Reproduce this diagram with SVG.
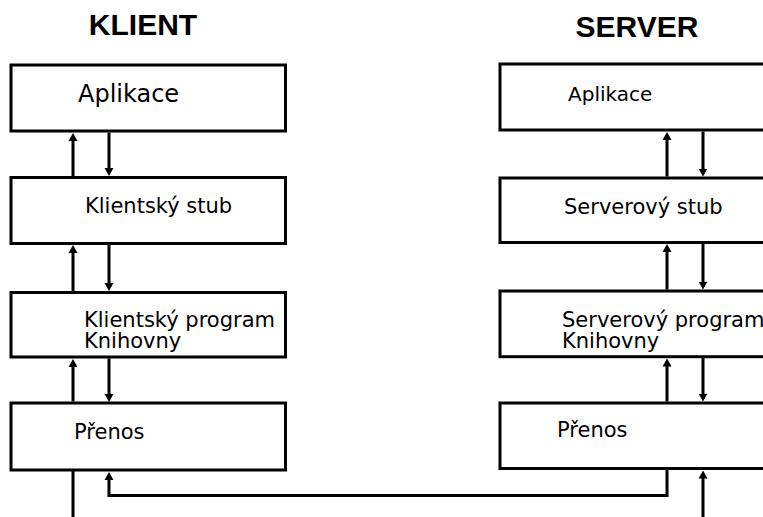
<svg xmlns="http://www.w3.org/2000/svg" width="763" height="517" viewBox="0 0 763 517">
  <style>
    .box { fill: #ffffff; stroke: #000000; stroke-width: 3; }
    .lbl { font-family: "DejaVu Sans", Verdana, sans-serif; font-size: 21px; fill: #000000; }
    .head { font-family: "Liberation Sans", Arial, sans-serif; font-size: 30px; font-weight: bold; fill: #000000; text-anchor: middle; }
    .wire { fill: none; stroke: #000000; stroke-width: 3; }
    .arr { marker-end: url(#tip); }
  </style>
  <defs>
    <marker id="tip" markerUnits="userSpaceOnUse" markerWidth="9" markerHeight="10" refX="1" refY="5" orient="auto">
      <path d="M0,0.5 L8,5 L0,9.5 z" fill="#000000"/>
    </marker>
  </defs>

  <rect width="763" height="517" fill="#ffffff"/>

  <text class="head" x="143" y="35">KLIENT</text>
  <text class="head" x="637" y="37">SERVER</text>

  <!-- client stack -->
  <g id="k-aplikace">
    <rect class="box" x="11" y="65" width="274.5" height="66"/>
    <text class="lbl" x="78" y="102" style="font-size:24px">Aplikace</text>
  </g>
  <g id="k-stub">
    <rect class="box" x="11" y="177.5" width="274.5" height="66"/>
    <text class="lbl" x="85" y="213">Klientský stub</text>
  </g>
  <g id="k-program">
    <rect class="box" x="11" y="292.5" width="274.5" height="64.5"/>
    <text class="lbl" x="84" y="327">Klientský program</text>
    <text class="lbl" x="84" y="348">Knihovny</text>
  </g>
  <g id="k-prenos">
    <rect class="box" x="11" y="403" width="274.5" height="67"/>
    <text class="lbl" x="74" y="439">Přenos</text>
  </g>

  <!-- server stack -->
  <g id="s-aplikace">
    <rect class="box" x="500" y="64" width="280" height="66"/>
    <text class="lbl" x="568" y="101" style="font-size:20px">Aplikace</text>
  </g>
  <g id="s-stub">
    <rect class="box" x="500" y="178" width="280" height="64.5"/>
    <text class="lbl" x="564" y="214">Serverový stub</text>
  </g>
  <g id="s-program">
    <rect class="box" x="500" y="291" width="280" height="65.7"/>
    <text class="lbl" x="562" y="327">Serverový program</text>
    <text class="lbl" x="562" y="348">Knihovny</text>
  </g>
  <g id="s-prenos">
    <rect class="box" x="500" y="403" width="280" height="65.5"/>
    <text class="lbl" x="557" y="437">Přenos</text>
  </g>

  <!-- connectors -->
  <g id="connectors">
    <!-- client: upward calls -->
    <line class="wire arr" x1="73" y1="176" x2="73" y2="140"/>
    <line class="wire arr" x1="73" y1="291" x2="73" y2="252"/>
    <line class="wire arr" x1="73" y1="401.5" x2="73" y2="366"/>
    <line class="wire" x1="73" y1="471" x2="73" y2="520"/>
    <!-- client: downward calls -->
    <line class="wire arr" x1="109" y1="132.5" x2="109" y2="169"/>
    <line class="wire arr" x1="109" y1="245" x2="109" y2="284"/>
    <line class="wire arr" x1="109" y1="358.5" x2="109" y2="395"/>

    <!-- server: upward calls -->
    <line class="wire arr" x1="667" y1="176.5" x2="667" y2="139"/>
    <line class="wire arr" x1="667" y1="289.5" x2="667" y2="251"/>
    <line class="wire arr" x1="667" y1="401.5" x2="667" y2="365.5"/>
    <line class="wire arr" x1="703" y1="520" x2="703" y2="477.5"/>
    <!-- server: downward calls -->
    <line class="wire arr" x1="703" y1="131.5" x2="703" y2="169.5"/>
    <line class="wire arr" x1="703" y1="244" x2="703" y2="282.5"/>
    <line class="wire arr" x1="703" y1="358" x2="703" y2="394.5"/>

    <!-- transport link between the two sides -->
    <polyline class="wire arr" points="667,470 667,495.5 109,495.5 109,479"/>
  </g>
</svg>
